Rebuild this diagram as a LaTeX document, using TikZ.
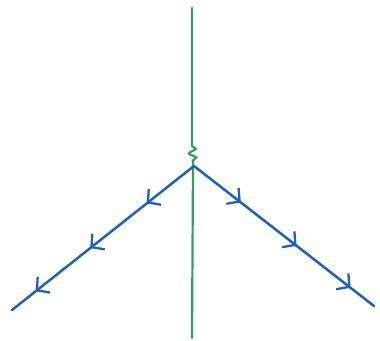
\documentclass[tikz,border=0pt]{standalone}
\usetikzlibrary{arrows.meta,decorations.markings,decorations.pathmorphing}
\definecolor{gl}{RGB}{40,165,85}
\definecolor{fm}{RGB}{35,95,185}
\tikzset{
  gluon/.style={gl,line width=2.2pt,line cap=round},
  fermion/.style={fm,line width=2.5pt,line cap=round,
    postaction={decorate,decoration={markings,
      mark=at position 0.26 with {\arrow{Straight Barb[length=9pt,width=20pt,line width=2.3pt]}},
      mark=at position 0.57 with {\arrow{Straight Barb[length=9pt,width=20pt,line width=2.3pt]}},
      mark=at position 0.87 with {\arrow{Straight Barb[length=9pt,width=20pt,line width=2.3pt]}}}}}
}
\begin{document}
\begin{tikzpicture}[x=1pt,y=-1pt]
\useasboundingbox (0,0) rectangle (380,340);
\coordinate (top) at (192,8);
\coordinate (w1) at (192,146);
\coordinate (w2) at (193,164);
\coordinate (v) at (194,166);
\coordinate (bot) at (192,338);
\coordinate (l) at (12,310);
\coordinate (r) at (374,306);
\draw[gluon] (top) -- (w1);
\draw[gluon,decorate,decoration={snake,amplitude=3.5pt,segment length=9pt}] (w1) -- (w2);
\draw[gluon] (w2) -- (bot);
\draw[fermion] (v) -- (l);
\draw[fermion] (v) -- (r);
\end{tikzpicture}
\end{document}
